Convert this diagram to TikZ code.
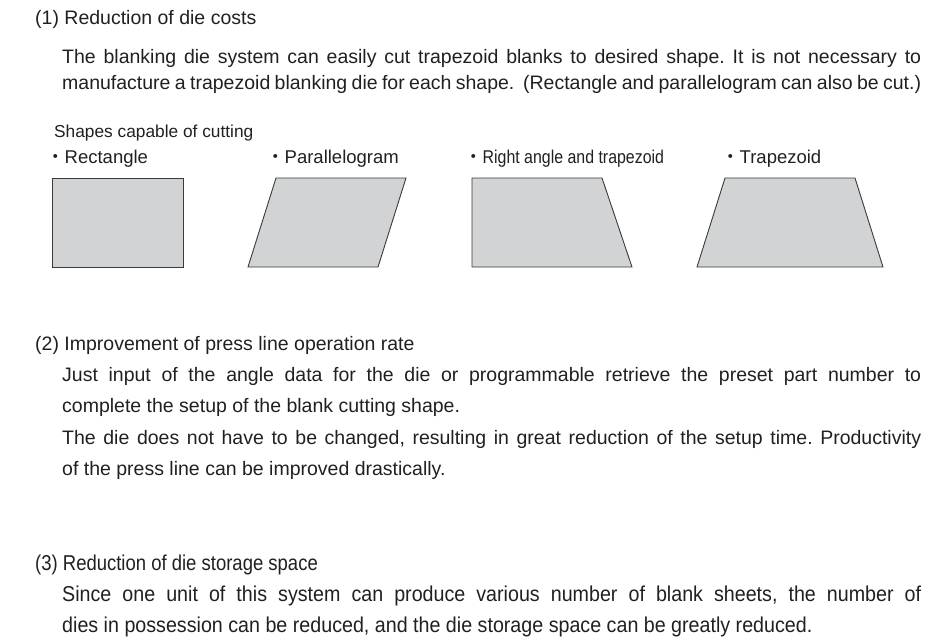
\documentclass[tikz,border=0pt]{standalone}
\usepackage{fontspec}
\setmainfont{Liberation Sans}
\newfontfamily\cjkfont{Noto Sans CJK JP}
\definecolor{ink}{HTML}{231F20}
\definecolor{blankfill}{HTML}{D1D3D4}
\definecolor{blankedge}{HTML}{3A3A3A}
% a line of body text spread to the full column width
\newcommand\justline[1]{\makebox[859pt][s]{#1}}
% the same for the narrow-set closing section
\newcommand\narrowjust[1]{\scalebox{0.915}[1]{\makebox[938.8pt][s]{#1}}}
\newcommand\narrowtext[2][0.915]{\scalebox{#1}[1]{#2}}
\newcommand\dotmark{{\cjkfont ・}}
\frenchspacing

\begin{document}
\begin{tikzpicture}[x=1pt,y=-1pt,
  txt/.style={anchor=base west, inner sep=0pt, text=ink,
              font=\fontsize{19.5}{23}\selectfont},
  tall/.style={anchor=base west, inner sep=0pt, text=ink,
              font=\fontsize{21.5}{25}\selectfont},
  lbl/.style={anchor=base west, inner sep=0pt, text=ink,
              font=\fontsize{18.5}{22}\selectfont},
  blankshape/.style={fill=blankfill, draw=blankedge, line width=0.9pt,
                     line join=miter}]
\useasboundingbox (0,0) rectangle (940,641);

% (1) die costs
\node[txt] (h1) at (35,24) {(1) Reduction of die costs};
\node[txt] (p1a) at (62,63) {\justline{The blanking die system can easily cut trapezoid blanks to desired shape. It is not necessary to}};
\node[txt] (p1b) at (62,89) {\justline{manufacture a trapezoid blanking die for each shape.\ \ (Rectangle and parallelogram can also be cut.)}};

\node[lbl, font=\fontsize{17.3}{21}\selectfont] (cap) at (54,137) {Shapes capable of cutting};

% shape labels
\node[lbl] (l1) at (46,163) {\dotmark Rectangle};
\node[lbl] (l2) at (266,163) {\dotmark Parallelogram};
\node[lbl] (l3) at (464,163) {\dotmark\scalebox{0.86}[1]{Right angle and trapezoid}};
\node[lbl] (l4) at (721,163) {\dotmark Trapezoid};

% the four blank shapes
\draw[blankshape] (52,178) rectangle (183,267);
\draw[blankshape] (276,178) -- (406,178) -- (378,267) -- (248,267) -- cycle;
\draw[blankshape] (472,178) -- (602,178) -- (632,267) -- (472,267) -- cycle;
\draw[blankshape] (725,178) -- (855,178) -- (883,267) -- (697,267) -- cycle;

% (2) press line operation rate
\node[txt] (h2) at (35,350) {(2) Improvement of press line operation rate};
\node[txt] (p2a) at (62,381) {\justline{Just input of the angle data for the die or programmable retrieve the preset part number to}};
\node[txt] (p2b) at (62,412) {complete the setup of the blank cutting shape.};
\node[txt] (p2c) at (62,444) {\justline{The die does not have to be changed, resulting in great reduction of the setup time. Productivity}};
\node[txt] (p2d) at (62,475) {of the press line can be improved drastically.};

% (3) die storage space, set narrower and taller
\node[tall] (h3) at (35,570) {\narrowtext[0.86]{(3) Reduction of die storage space}};
\node[tall] (p3a) at (62,601) {\narrowjust{Since one unit of this system can produce various number of blank sheets, the number of}};
\node[tall] (p3b) at (62,632) {\narrowtext{dies in possession can be reduced, and the die storage space can be greatly reduced.}};
\end{tikzpicture}
\end{document}
